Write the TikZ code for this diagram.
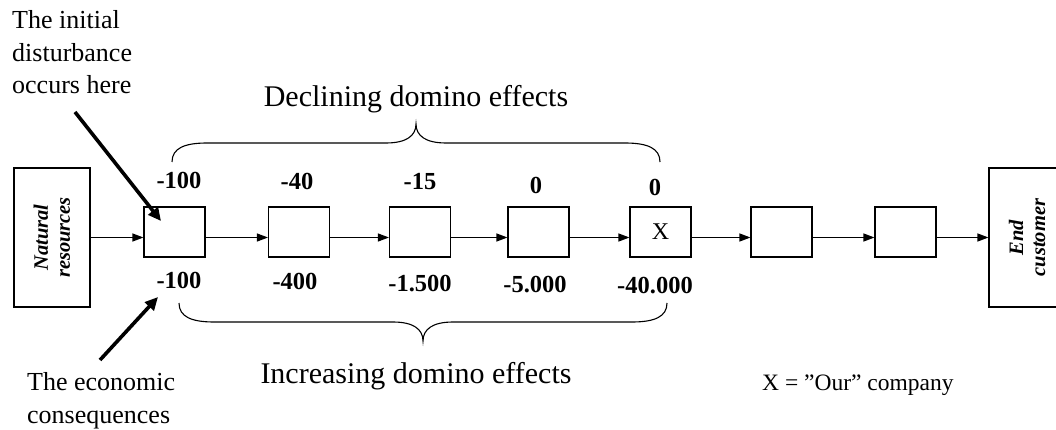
\documentclass[tikz,border=0pt]{standalone}
\usepackage{fontspec}
\setmainfont{Liberation Serif}
\usetikzlibrary{arrows.meta}

\begin{document}
\begin{tikzpicture}[x=1pt,y=-1pt,
  firm/.style={draw,line width=1.1pt,minimum width=61pt,minimum height=50pt,inner sep=0pt,font=\fontsize{24}{28}\selectfont},
  endbox/.style={draw,line width=1.1pt,minimum width=76pt,minimum height=139pt,inner sep=0pt},
  endlabel/.style={rotate=90,align=center,font=\fontsize{20.5}{22}\selectfont\bfseries\itshape},
  flow/.style={line width=1.1pt,-{Triangle[length=11pt,width=8pt]}},
  pointer/.style={line width=3.6pt,-{Triangle[length=13pt,width=12pt]}},
  num/.style={font=\fontsize{24.5}{27}\selectfont\bfseries,inner sep=0pt},
  caption/.style={font=\fontsize{26}{32.5}\selectfont,align=left,inner sep=0pt},
  heading/.style={font=\fontsize{30}{34}\selectfont,inner sep=0pt,anchor=base},
  brace/.style={line width=1.1pt}]
\useasboundingbox (0,0) rectangle (1056,430);

% chain ends
\node[endbox] (nat) at (52,237.5) {};
\node[endlabel] at (nat.center) {Natural\\resources};
\node[endbox] (cust) at (1027,237.5) {};
\node[endlabel] at (cust.center) {End\\customer};

% companies along the supply chain
\node[firm] (b1) at (174.5,232) {};
\node[firm] (b2) at (299,232) {};
\node[firm] (b3) at (420,232) {};
\node[firm] (b4) at (538.5,232) {};
\node[firm] (b5) at (660.5,232) {X};
\node[firm] (b6) at (781.5,232) {};
\node[firm] (b7) at (905.5,232) {};

% material flow
\draw[flow] (nat.east) -- (b1.west |- nat);
\draw[flow] (b1.east |- nat) -- (b2.west |- nat);
\draw[flow] (b2.east |- nat) -- (b3.west |- nat);
\draw[flow] (b3.east |- nat) -- (b4.west |- nat);
\draw[flow] (b4.east |- nat) -- (b5.west |- nat);
\draw[flow] (b5.east |- nat) -- (b6.west |- nat);
\draw[flow] (b6.east |- nat) -- (b7.west |- nat);
\draw[flow] (b7.east |- nat) -- (cust.west);

% direct effects
\node[num] (t1) at (179,180) {-100};
\node[num] (t2) at (297,181.5) {-40};
\node[num] (t3) at (420,181.5) {-15};
\node[num] (t4) at (536,185) {0};
\node[num] (t5) at (655,187) {0};

% economic consequences
\node[num] (u1) at (179,280) {-100};
\node[num] (u2) at (295,281.5) {-400};
\node[num] (u3) at (420,283.5) {-1.500};
\node[num] (u4) at (535,284.5) {-5.000};
\node[num] (u5) at (655,285.5) {-40.000};

% braces
\draw[brace] (172,162) .. controls (172,148) and (185,143) .. (207,143) -- (386,143)
  .. controls (406,143) and (416,136) .. (416,124)
  .. controls (416,136) and (426,143) .. (446,143) -- (625,143)
  .. controls (647,143) and (660,148) .. (660,162);
\draw[brace] (179,303) .. controls (179,317) and (192,322) .. (214,322) -- (393,322)
  .. controls (413,322) and (423,329) .. (423,341)
  .. controls (423,329) and (433,322) .. (453,322) -- (632,322)
  .. controls (654,322) and (667,317) .. (667,303);

\node[heading] (decl) at (416,107) {Declining domino effects};
\node[heading] (incr) at (416,383) {Increasing domino effects};

% annotations (anchored at the baseline of their last line)
\node[caption,anchor=base west] (init) at (12,94) {The initial\\disturbance\\occurs here};
\node[caption,anchor=base west] (econ) at (27,423) {The economic\\consequences};
\coordinate (dtail) at (75,112);
\coordinate (dtip) at (161,221);
\coordinate (etail) at (100,360);
\coordinate (etip) at (158,297);
\draw[pointer] (dtail) -- (dtip);
\draw[pointer] (etail) -- (etip);

\node[font=\fontsize{23.5}{28}\selectfont,anchor=base west,inner sep=0pt] (key) at (762,390) {X = ”Our” company};
\end{tikzpicture}
\end{document}
